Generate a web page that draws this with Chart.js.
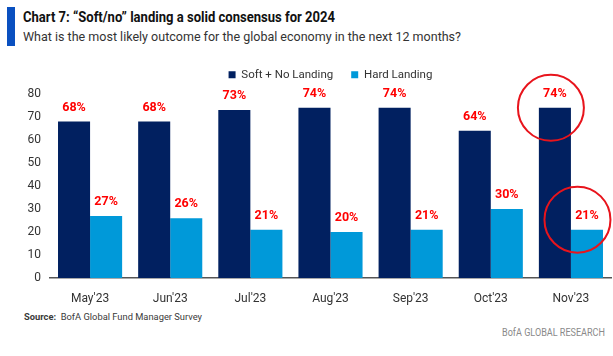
<!DOCTYPE html>
<html><head><meta charset="utf-8">
<script src="https://cdn.jsdelivr.net/npm/chart.js@4.4.0/dist/chart.umd.min.js"></script>
<style>
html,body{margin:0;padding:0;background:#fff;}
#wrap{position:relative;width:613px;height:356px;overflow:hidden;font-family:Roboto,'Liberation Sans',sans-serif;}
#bar{position:absolute;left:7px;top:7px;width:8px;height:39px;background:#0a50c0;}
.fit{position:absolute;white-space:nowrap;transform-origin:0 0;}
#title{left:23px;top:9px;font-size:14.5px;font-weight:bold;color:#111;}
#sub{left:23px;top:28px;font-size:13.5px;color:#333;}
#src{left:24px;top:311px;font-size:9.5px;color:#3a3a3a;}
#brand{left:502px;top:326px;font-size:10.5px;color:#8a8a8a;}
#cv{position:absolute;left:0;top:47px;}
</style></head><body>
<div id="wrap">
<div id="bar"></div>
<div id="title" class="fit" data-w="312">Chart 7: “Soft/no” landing a solid consensus for 2024</div>
<div id="sub" class="fit" data-w="438">What is the most likely outcome for the global economy in the next 12 months?</div>
<canvas id="cv" width="613" height="258"></canvas>
<div id="src" class="fit" data-w="178"><b>Source:</b>&nbsp; BofA Global Fund Manager Survey</div>
<div id="brand" class="fit" data-w="103">BofA GLOBAL RESEARCH</div>
</div>
<script>
const categories = ["May'23","Jun'23","Jul'23","Aug'23","Sep'23","Oct'23","Nov'23"];
const softNoLanding = [68,68,73,74,74,64,74];
const hardLanding = [27,26,21,20,21,30,21];
const yTicks = [0,10,20,30,40,50,60,70,80];
const seriesNames = ["Soft + No Landing","Hard Landing"];
const highlightIndex = 6;

// condense HTML text to the reference widths
document.querySelectorAll('.fit').forEach(el=>{
  const w = el.getBoundingClientRect().width;
  const t = parseFloat(el.dataset.w);
  el.style.transform = 'scaleX(' + (t / w) + ')';
});

const FONT = "Roboto,'Liberation Sans',sans-serif";

const legendHeight = {
  id:'legendHeight',
  beforeInit(chart){
    const lg = chart.legend;
    const orig = lg.fit.bind(lg);
    lg.fit = function(){ orig(); this.height = 43; };
  }
};

const labelPlugin = {
  id:'valueLabels',
  afterDatasetsDraw(chart){
    const ctx = chart.ctx;
    ctx.save();
    ctx.font = "bold 12.5px " + FONT;
    ctx.fillStyle = '#ff0000';
    ctx.textAlign = 'center';
    ctx.textBaseline = 'middle';
    chart.data.datasets.forEach((ds,di)=>{
      const meta = chart.getDatasetMeta(di);
      meta.data.forEach((el,i)=>{
        ctx.fillText(ds.data[i] + '%', el.x, el.y - 14);
      });
    });
    // highlight circles on the latest month
    ctx.strokeStyle = '#e8141c';
    ctx.lineWidth = 2;
    const a = chart.getDatasetMeta(0).data[highlightIndex];
    const b = chart.getDatasetMeta(1).data[highlightIndex];
    ctx.beginPath(); ctx.arc(a.x - 4, a.y, 33, 0, Math.PI*2); ctx.stroke();
    ctx.beginPath(); ctx.arc(b.x - 9.5, b.y - 10, 33, 0, Math.PI*2); ctx.stroke();
    ctx.restore();
  }
};

new Chart(document.getElementById('cv'), {
  type:'bar',
  data:{
    labels:categories,
    datasets:[
      {label:seriesNames[0], data:softNoLanding, backgroundColor:'#012060', categoryPercentage:0.8, barPercentage:1.0},
      {label:seriesNames[1], data:hardLanding, backgroundColor:'#0099d9', categoryPercentage:0.8, barPercentage:1.0}
    ]
  },
  options:{
    responsive:false,
    animation:false,
    devicePixelRatio:1,
    layout:{padding:{left:0,right:2,top:4,bottom:0}},
    plugins:{
      legend:{
        display:true,
        position:'top',
        fullSize:false,
        labels:{boxWidth:7,boxHeight:7,padding:18,color:'#333',font:{family:FONT,size:11.5}}
      },
      tooltip:{enabled:false},
      title:{display:false}
    },
    scales:{
      x:{
        afterFit(s){ s.height = 27; },
        grid:{display:false},
        border:{display:true,color:'#555',width:1.5},
        ticks:{color:'#333',font:{family:FONT,size:12},padding:6}
      },
      y:{
        min:0,max:80,
        afterFit(s){ s.width = 50; },
        afterBuildTicks(s){ s.ticks = yTicks.map(v=>({value:v})); },
        grid:{display:false},
        border:{display:false},
        ticks:{color:'#333',font:{family:FONT,size:12},padding:1}
      }
    }
  },
  plugins:[legendHeight, labelPlugin]
});
</script>
</body></html>
